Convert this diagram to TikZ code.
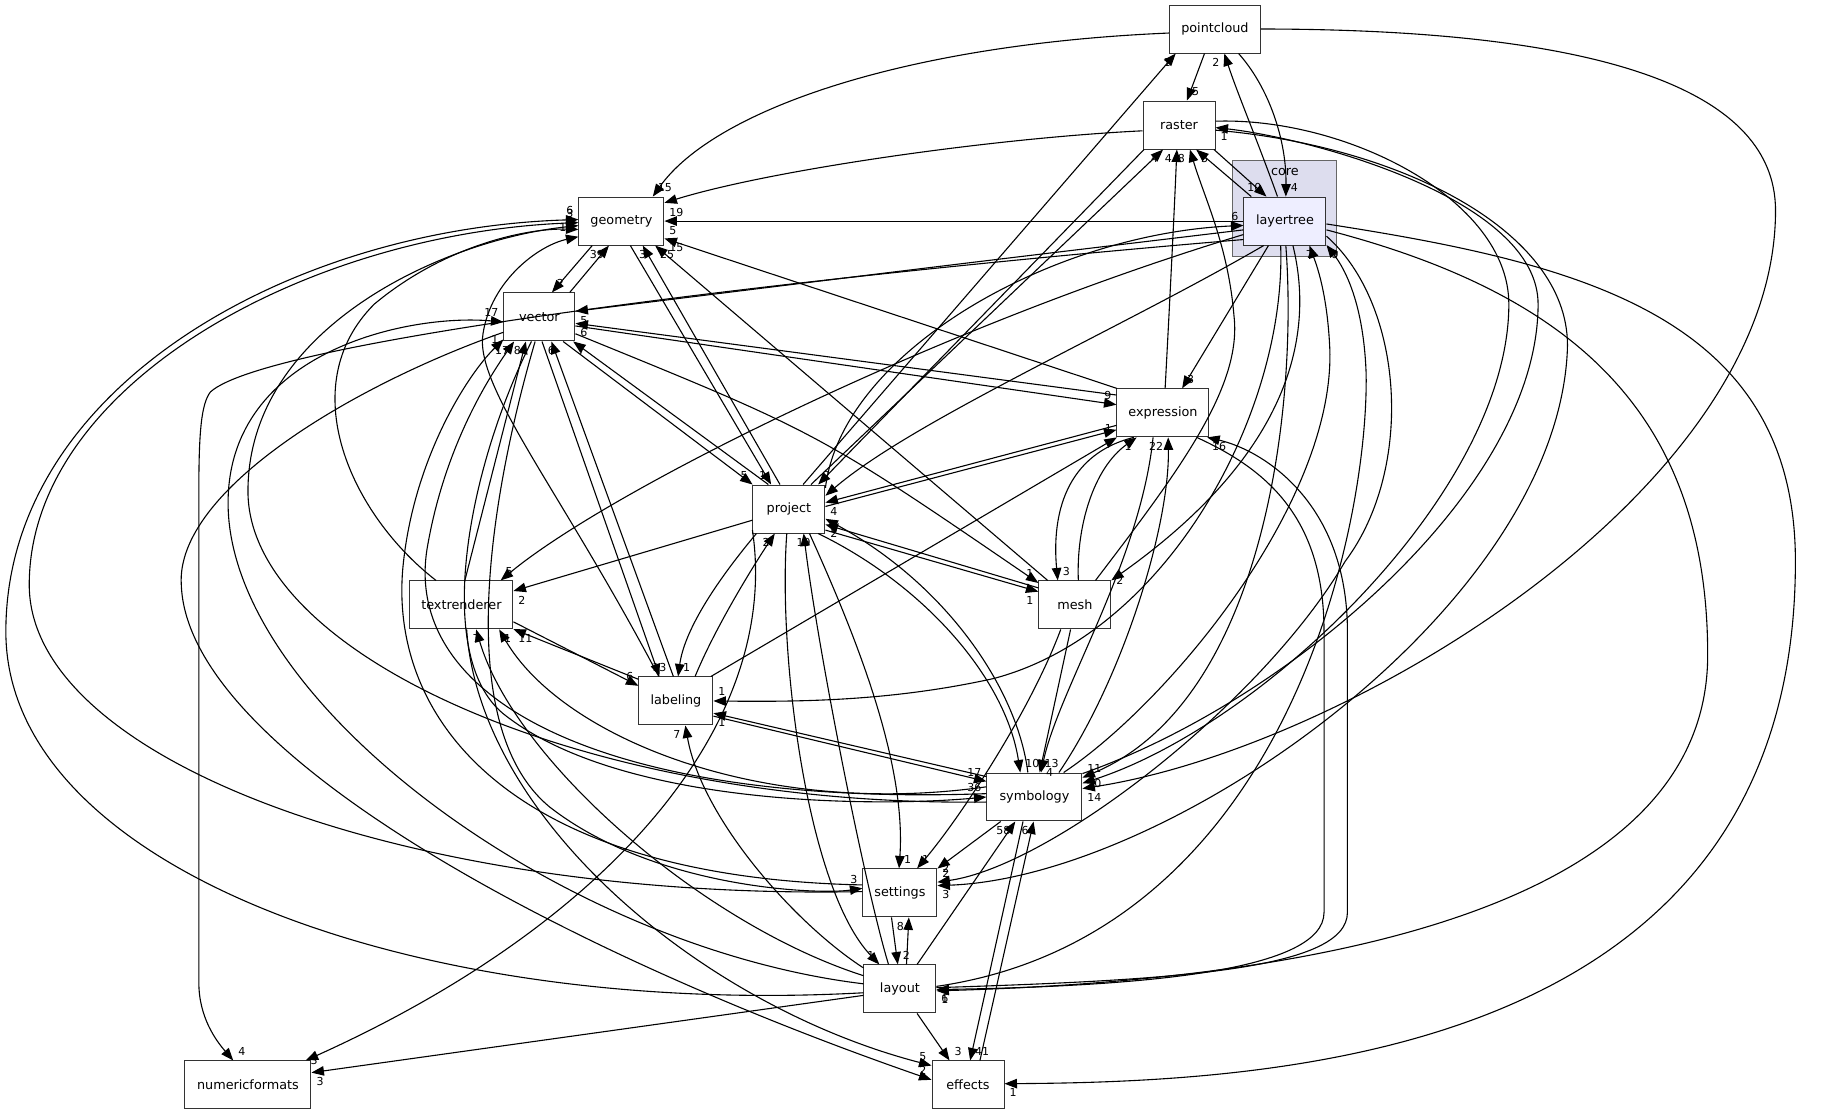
\documentclass[tikz,border=0pt]{standalone}
\usepackage{fontspec}
\setmainfont{DejaVu Sans}
\usetikzlibrary{arrows.meta}
\definecolor{corefill}{HTML}{DDDDEE}
\definecolor{ltfill}{HTML}{EEEEFF}
\tikzset{
  dirbox/.style={draw=black!80, line width=1pt, fill=white, minimum height=48pt, minimum width=#1, inner sep=0pt, font=\fontsize{12.8}{15}\selectfont},
  dep/.style={line width=1.1pt, -{Triangle[length=12.5pt,width=9.5pt]}},
  lbl/.style={font=\fontsize{11}{13}\selectfont, inner sep=4.5pt},
}
\begin{document}
\begin{tikzpicture}[x=1.1697pt, y=-1.1697pt]
      \useasboundingbox (0,0) rectangle (1568,953);
      \filldraw [fill=corefill, draw=black!60, line width=1pt] (1054,137.6) rectangle (1143,218.9);
      \node [font=\fontsize{12.8}{15}\selectfont] (corelbl) at (1098.6,147) {core};
      \node [dirbox=91pt] (pointcloud) at (1038.7,24.8) {pointcloud};
      \node [dirbox=72pt] (raster) at (1008,106.9) {raster};
      \node [dirbox=82pt, fill=ltfill] (layertree) at (1098.6,189) {layertree};
      \node [dirbox=85pt] (geometry) at (531.3,189) {geometry};
      \node [dirbox=71pt] (vector) at (461.2,271) {vector};
      \node [dirbox=92pt] (expression) at (994.3,353) {expression};
      \node [dirbox=72pt] (project) at (674.5,435.2) {project};
      \node [dirbox=103pt] (textrenderer) at (394.5,517.2) {textrenderer};
      \node [dirbox=72pt] (mesh) at (919,517.2) {mesh};
      \node [dirbox=74pt] (labeling) at (577.9,599.3) {labeling};
      \node [dirbox=95pt] (symbology) at (884.4,681.4) {symbology};
      \node [dirbox=74pt] (settings) at (769.4,763.4) {settings};
      \node [dirbox=72pt] (layout) at (769.4,845.5) {layout};
      \node [dirbox=72pt] (effects) at (827.6,927.6) {effects};
      \node [dirbox=126pt] (numericformats) at (212,927.6) {numericformats};
      \draw [dep] (pointcloud.185) .. controls (770,38) and (610,95) .. (geometry.38) node [lbl, at end, anchor=south west] {15};
      \draw [dep] (pointcloud.-113) -- (raster.72) node [lbl, at end, anchor=south west] {5};
      \draw [dep] (pointcloud.-46) .. controls (1085,75) and (1100,120) .. (layertree.88) node [lbl, at end, anchor=south west] {4};
      \draw [dep] (pointcloud.east) .. controls (1350,25) and (1518,70) .. (1518,180) .. controls (1518,420) and (1150,640) .. (symbology.10) node [lbl, at end, anchor=north west] {14};
      \draw [dep] (project.60) -- (pointcloud.-148) node [lbl, at end, anchor=north east] {1};
      \draw [dep] (layertree.107) .. controls (1075,120) and (1058,80) .. (pointcloud.-69) node [lbl, at end, anchor=north east] {2};
      \draw [dep] (raster.189) .. controls (850,118) and (660,145) .. (geometry.23) node [lbl, at end, anchor=north west] {19};
      \draw [dep] (raster.-35) -- (layertree.127) node [lbl, at end, anchor=south east] {10};
      \draw [dep] (layertree.144) -- (raster.-55) node [lbl, at end, anchor=north west] {3};
      \draw [dep] (project.48) -- (raster.-123) node [lbl, at end, anchor=north east] {4};
      \draw [dep] (raster.-145) -- (project.40) node [lbl, at end, anchor=south west] {2};
      \draw [dep] (expression.85) .. controls (1000,260) and (1004,180) .. (raster.-95) node [lbl, at end, anchor=north east] {4};
      \draw [dep] (mesh.50) .. controls (1010,400) and (1062,330) .. (1055,270) .. controls (1050,210) and (1030,170) .. (raster.-66) node [lbl, at end, anchor=north east] {8};
      \draw [dep] (layertree.180) -- (geometry.0) node [lbl, at end, anchor=north west] {5};
      \draw [dep] (layertree.192) .. controls (800,228) .. (vector.9) node [lbl, at end, anchor=north west] {5};
      \draw [dep] (expression.159) -- (vector.-10) node [lbl, at end, anchor=north west] {6};
      \draw [dep] (vector.-14) -- (expression.170) node [lbl, at end, anchor=south east] {9};
      \draw [dep] (expression.152) -- (geometry.-22) node [lbl, at end, anchor=north west] {15};
      \draw [dep] (layertree.204) .. controls (700,235) and (230,290) .. (180,335) .. controls (172,345) and (170,370) .. (170,420) -- (170,840) .. controls (170,870) and (185,890) .. (numericformats.121) node [lbl, at end, anchor=south west] {4};
      \draw [dep] (geometry.-140) -- (vector.63) node [lbl, at end, anchor=south west] {2};
      \draw [dep] (vector.39) -- (geometry.-117) node [lbl, at end, anchor=north east] {39};
      \draw [dep] (vector.-46) -- (project.146) node [lbl, at end, anchor=south east] {5};
      \draw [dep] (project.130) -- (vector.-36) node [lbl, at end, anchor=north west] {7};
      \draw [dep] (vector.-25) .. controls (700,370) .. (mesh.149) node [lbl, at end, anchor=south east] {1};
      \draw [dep] (project.-30) -- (mesh.160) node [lbl, at end, anchor=north east] {1};
      \draw [dep] (mesh.155) -- (project.-23) node [lbl, at end, anchor=north west] {2};
      \draw [dep] (geometry.-70) -- (project.126) node [lbl, at end, anchor=south east] {1};
      \draw [dep] (project.110) -- (geometry.-49) node [lbl, at end, anchor=north] {3};
      \draw [dep] (mesh.138) -- (geometry.-36) node [lbl, at end, anchor=north west] {25};
      \draw [dep] (vector.-84) -- (labeling.124) node [lbl, at end, anchor=south] {13};
      \draw [dep] (labeling.96) -- (vector.-64) node [lbl, at end, anchor=north] {6};
      \draw [dep] (project.-143) .. controls (610,500) and (585,540) .. (labeling.85) node [lbl, at end, anchor=south west] {1};
      \draw [dep] (labeling.52) .. controls (610,540) and (640,490) .. (project.-120) node [lbl, at end, anchor=north east] {2};
      \draw [dep] (layertree.-100) .. controls (1100,350) and (1000,540) .. (850,580) .. controls (760,600) and (680,600) .. (labeling.0) node [lbl, at end, anchor=south west] {1};
      \draw [dep] (symbology.157) -- (labeling.-18) node [lbl, at end, anchor=north west] {1};
      \draw [dep] (labeling.-22) -- (symbology.162) node [lbl, at end, anchor=south east] {17};
      \draw [dep] (labeling.35) -- (expression.-152) node [lbl, at end, anchor=south east] {1};
      \draw [dep] (project.4) -- (expression.-160);
      \draw [dep] (expression.-165) -- (project.10) node [lbl, at end, anchor=north west] {4};
      \draw [dep] (layertree.-131) .. controls (960,280) and (780,360) .. (project.20);
      \draw [dep] (project.30) .. controls (720,300) and (900,200) .. (layertree.186) node [lbl, at end, anchor=south east] {6};
      \draw [dep] (layertree.198) .. controls (800,280) and (520,420) .. (textrenderer.32) node [lbl, at end, anchor=south west] {5};
      \draw [dep] (project.-163) -- (textrenderer.15) node [lbl, at end, anchor=north west] {2};
      \draw [dep] (textrenderer.136) .. controls (300,440) and (250,330) .. (320,260) .. controls (380,210) and (450,195) .. (geometry.191) node [lbl, at end, anchor=south east] {1};
      \draw [dep] (textrenderer.82) -- (vector.-119) node [lbl, at end, anchor=north east] {8};
      \draw [dep] (labeling.150) -- (textrenderer.-25) node [lbl, at end, anchor=north west] {11};
      \draw [dep] (textrenderer.-18) -- (labeling.158) node [lbl, at end, anchor=south east] {6};
      \draw [dep] (textrenderer.-78) .. controls (410,700) and (600,860) .. (effects.152) node [lbl, at end, anchor=south east] {5};
      \draw [dep] (symbology.168) .. controls (650,700) and (480,630) .. (textrenderer.-33) node [lbl, at end, anchor=north west] {1};
      \draw [dep] (layout.160) .. controls (600,790) and (440,650) .. (textrenderer.-59) node [lbl, at end, anchor=north] {7};
      \draw [dep] (project.-40) .. controls (790,500) and (860,580) .. (symbology.120) node [lbl, at end, anchor=south west] {10};
      \draw [dep] (symbology.105) .. controls (870,590) and (810,500) .. (project.-15) node [lbl, at end, anchor=north west] {2};
      \draw [dep] (mesh.-100) -- (symbology.78) node [lbl, at end, anchor=south west] {13};
      \draw [dep] (expression.-112) .. controls (975,480) and (905,590) .. (symbology.75) node [lbl, at end, anchor=west] {4};
      \draw [dep] (symbology.45) .. controls (960,580) and (1000,450) .. (expression.-78) node [lbl, at end, anchor=north east] {22};
      \draw [dep] (mesh.-120) .. controls (880,610) and (820,700) .. (settings.55) node [lbl, at end, anchor=south west] {1};
      \draw [dep] (project.-50) .. controls (730,540) and (775,650) .. (settings.92) node [lbl, at end, anchor=south west] {1};
      \draw [dep] (symbology.-144) -- (settings.33) node [lbl, at end, anchor=west] {2};
      \draw [dep] (layertree.-20) .. controls (1200,260) and (1210,400) .. (1150,480) .. controls (1080,600) and (900,740) .. (settings.16) node [lbl, at end, anchor=south west] {2};
      \draw [dep] (raster.-8) .. controls (1200,125) and (1345,200) .. (1340,300) .. controls (1330,520) and (1000,750) .. (settings.11) node [lbl, at end, anchor=north west] {3};
      \draw [dep] (settings.-109) -- (layout.95) node [lbl, at end, anchor=south west] {2};
      \draw [dep] (layout.75) -- (settings.-70) node [lbl, at end, anchor=north east] {8};
      \draw [dep] (project.-95) .. controls (665,560) and (690,760) .. (layout.130) node [lbl, at end, anchor=south east] {1};
      \draw [dep] (layout.115) .. controls (740,760) and (700,560) .. (project.-59) node [lbl, at end, anchor=north] {19};
      \draw [dep] (layout.55) -- (symbology.-128) node [lbl, at end, anchor=north east] {58};
      \draw [dep] (symbology.-115) -- (effects.85) node [lbl, at end, anchor=south west] {41};
      \draw [dep] (effects.64) -- (symbology.-92) node [lbl, at end, anchor=north east] {6};
      \draw [dep] (layout.-55) -- (effects.127) node [lbl, at end, anchor=south west] {3};
      \draw [dep] (layout.-170) -- (numericformats.11) node [lbl, at end, anchor=north west] {3};
      \draw [dep] (project.-150) .. controls (668,620) and (520,790) .. (numericformats.23) node [lbl, at end, anchor=west] {3};
      \draw [dep] (vector.203) .. controls (300,330) and (150,420) .. (155,500) .. controls (160,640) and (470,810) .. (effects.172) node [lbl, at end, anchor=south east] {2};
      \draw [dep] (layertree.-4) .. controls (1350,225) and (1535,270) .. (1535,480) .. controls (1535,900) and (1100,925) .. (effects.2) node [lbl, at end, anchor=north west] {1};
      \draw [dep] (layertree.-12) .. controls (1340,250) and (1460,350) .. (1460,560) .. controls (1460,800) and (1050,840) .. (layout.-3) node [lbl, at end, anchor=north west] {1};
      \draw [dep] (expression.-36) .. controls (1080,400) and (1132,440) .. (1132,540) -- (1132,780) .. controls (1132,830) and (980,843) .. (layout.-1) node [lbl, at end, anchor=north west] {6};
      \draw [dep] (layout.2) .. controls (1000,838) and (1152,830) .. (1152,780) -- (1152,540) .. controls (1152,430) and (1080,385) .. (expression.-29) node [lbl, at end, anchor=north west] {16};
      \draw [dep] (symbology.26) .. controls (1100,600) and (1315,420) .. (1315,260) .. controls (1315,170) and (1120,118) .. (raster.-4) node [lbl, at end, anchor=north west] {1};
      \draw [dep] (raster.6) .. controls (1150,100) and (1290,170) .. (1290,260) .. controls (1290,420) and (1080,620) .. (symbology.16) node [lbl, at end, anchor=west] {20};
      \draw [dep] (layertree.-88) .. controls (1110,350) and (1080,600) .. (symbology.22) node [lbl, at end, anchor=south west] {11};
      \draw [dep] (symbology.40) .. controls (1000,600) and (1140,430) .. (1137,300) .. controls (1135,250) and (1125,225) .. (layertree.-45) node [lbl, at end, anchor=north] {7};
      \draw [dep] (layout.4) .. controls (1100,800) and (1170,450) .. (1168,320) .. controls (1166,260) and (1150,230) .. (layertree.-30) node [lbl, at end, anchor=north west] {9};
      \draw [dep] (layertree.-72) .. controls (1125,290) and (1100,390) .. (mesh.34) node [lbl, at end, anchor=west] {2};
      \draw [dep] (layertree.-124) -- (expression.52) node [lbl, at end, anchor=south west] {3};
      \draw [dep] (expression.-140) .. controls (905,390) and (900,450) .. (mesh.125) node [lbl, at end, anchor=south west] {3};
      \draw [dep] (mesh.82) .. controls (920,450) and (935,400) .. (expression.-137) node [lbl, at end, anchor=north east] {1};
      \draw [dep] (layout.150) .. controls (680,790) and (600,700) .. (labeling.-69) node [lbl, at end, anchor=north east] {7};
      \draw [dep] (layout.186) .. controls (350,870) and (5,740) .. (5,540) .. controls (5,330) and (250,195) .. (geometry.178) node [lbl, at end, anchor=south east] {6};
      \draw [dep] (settings.178) .. controls (350,770) and (25,650) .. (25,500) .. controls (25,330) and (260,200) .. (geometry.182) node [lbl, at end, anchor=south east] {3};
      \draw [dep] (symbology.186) .. controls (500,690) and (212,560) .. (212,420) .. controls (212,280) and (380,205) .. (geometry.186) node [lbl, at end, anchor=east] {4};
      \draw [dep] (labeling.125) .. controls (480,420) and (405,330) .. (413,285) .. controls (420,240) and (460,210) .. (geometry.200) node [lbl, at end, anchor=south east] {17};
      \draw [dep] (layout.172) .. controls (480,810) and (195,600) .. (195,430) .. controls (195,300) and (350,268) .. (vector.188) node [lbl, at end, anchor=south east] {17};
      \draw [dep] (settings.168) .. controls (430,750) and (330,610) .. (345,480) .. controls (355,390) and (400,320) .. (vector.-148) node [lbl, at end, anchor=east] {1};
      \draw [dep] (symbology.176) .. controls (520,690) and (345,600) .. (365,470) .. controls (380,380) and (420,320) .. (vector.-136) node [lbl, at end, anchor=north east] {17};
      \draw [dep] (vector.-108) .. controls (400,400) and (370,560) .. (430,610) .. controls (530,690) and (750,690) .. (symbology.180) node [lbl, at end, anchor=south east] {36};
      \draw [dep] (vector.-100) .. controls (420,420) and (385,620) .. (470,690) .. controls (560,760) and (700,765) .. (settings.173) node [lbl, at end, anchor=south east] {3};
\end{tikzpicture}
\end{document}
